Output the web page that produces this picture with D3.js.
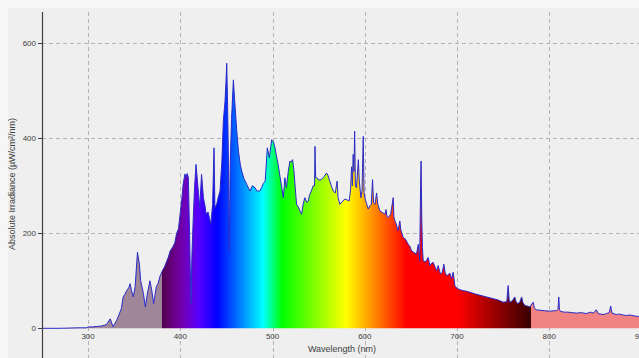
<!DOCTYPE html>
<html>
<head>
<meta charset="utf-8">
<script src="https://cdn.jsdelivr.net/npm/d3@7"></script>
<style>
  html, body { margin: 0; padding: 0; background: #f6f6f6; }
  svg { display: block; font-family: "Liberation Sans", Arial, sans-serif; }
</style>
</head>
<body>
<svg id="chart"></svg>
<script>
// wavelength (nm) and absolute irradiance (uW/cm2/nm)
const wavelengths = [
  250, 270, 290, 298, 300, 305, 310, 315, 320, 324, 327, 331, 336, 338, 340, 342, 344, 345.5, 347, 349,
  351, 353.5, 355.6, 357, 360, 362, 364, 367, 369, 371, 374, 376, 378, 381, 383, 385, 387, 389, 392, 394,
  396, 398, 400, 402, 403, 405, 406, 407.5, 408.7, 410, 411.5, 412.5, 414, 415.5, 417, 418.5, 419.5, 421, 423, 424,
  425, 427, 428, 430, 431.5, 433, 435, 436.5, 437.5, 439.4, 441, 443, 445, 446.6, 448.4, 449.5, 450.3, 451.2, 452, 453,
  454, 455.5, 457.5, 459, 461, 463, 465, 466.5, 469, 472, 474, 475.5, 478, 481, 483, 486, 488, 490, 492, 494.3,
  496.5, 499, 501, 502.6, 504, 506, 508, 510, 511.6, 513.4, 515, 517, 518.8, 520, 521.7, 523, 524, 526, 528, 529.7,
  531.5, 533, 535, 537, 538.7, 540, 542, 544, 545.5, 546, 546.7, 548, 550, 553, 556, 558.6, 560, 562, 564, 565.8,
  568, 570, 571, 573, 575, 578.4, 581, 583, 584.5, 585.7, 586.5, 587.4, 588.2, 589, 589.8, 591, 593, 594, 595.8, 597,
  598.3, 599.2, 600, 602, 603.7, 605.5, 607, 608.4, 609.5, 611, 612.8, 614, 616.4, 619, 621.8, 623, 624, 625.4, 628, 630.8,
  631.5, 632.6, 634, 636, 638, 639, 641.6, 644, 647, 649, 650.7, 653, 656, 658, 659.5, 660.5, 661, 661.8, 662.5, 663.3,
  666, 668.7, 670.5, 672, 674, 676, 677.8, 679.5, 682, 684, 685.7, 687, 688.6, 690, 692.2, 694, 695.8, 697.6, 699, 701,
  705, 710, 713.8, 720, 726, 732, 738, 744, 750, 754, 755.4, 756.5, 757.2, 760, 762.6, 764, 766, 768, 770, 771.5,
  773.5, 776, 779, 782.5, 784, 786, 790, 795, 800.5, 805, 807.8, 809.5, 810.3, 811, 812, 816, 820, 825, 829.5, 835,
  840, 845, 848, 851, 853, 858.3, 862, 865, 866.6, 868, 872.7, 876, 880, 883.6, 888, 892, 896.6, 900
];
const irradiance = [
  0, 0, 1, 1, 3, 3, 4, 5, 8, 20, 3, 17, 41, 66, 72, 80, 85, 94, 80, 66,
  88, 160, 135, 100, 73, 45, 70, 100, 80, 52, 88, 95, 110, 123, 130, 140, 150, 163, 172, 180,
  200, 210, 245, 280, 303, 325, 318, 326, 317, 200, 52, 150, 233, 300, 345, 310, 289, 254, 324, 300,
  275, 255, 240, 245, 233, 219, 261, 380, 254, 261, 275, 289, 350, 436, 477, 520, 558, 470, 373, 163,
  340, 440, 523, 477, 420, 373, 345, 331, 315, 303, 295, 289, 300, 296, 289, 289, 296, 305, 310, 380,
  359, 397, 392, 380, 365, 345, 320, 296, 275, 317, 296, 330, 352, 350, 355, 335, 310, 261, 255, 247,
  240, 260, 275, 265, 268, 280, 289, 300, 300, 383, 317, 317, 312, 313, 320, 327, 322, 310, 298, 289,
  285, 310, 275, 261, 266, 272, 270, 268, 290, 340, 300, 366, 330, 415, 300, 296, 355, 310, 275, 290,
  404, 285, 275, 262, 251, 258, 261, 313, 265, 261, 285, 262, 247, 244, 240, 250, 235, 233, 240, 275,
  235, 226, 220, 205, 226, 208, 191, 188, 177, 172, 163, 160, 156, 177, 142, 300, 352, 226, 170, 142,
  140, 149, 132, 136, 139, 130, 121, 132, 114, 118, 135, 118, 111, 112, 116, 104, 118, 90, 86, 83,
  80, 78, 76, 72, 69, 66, 63, 60, 55, 56, 90, 60, 55, 58, 66, 56, 52, 55, 66, 54,
  48, 47, 45, 55, 42, 39, 38, 37, 36, 37, 37, 40, 66, 40, 36, 34, 34, 33, 32, 33,
  31, 34, 32, 39, 31, 29, 31, 33, 47, 32, 29, 30, 28, 27, 28, 26, 25, 25
];
const xTicks = [300, 400, 500, 600, 700, 800, 900];
const yTicks = [0, 200, 400, 600];

const width = 639;
const height = 358;
const axisX = 42;
const plotTop = 12;

const svg = d3.select("#chart")
  .attr("width", width)
  .attr("height", height);

// chart panel
svg.append("rect")
  .attr("x", 8).attr("y", 8)
  .attr("width", width - 8).attr("height", height - 8)
  .attr("fill", "#efefef");

const x = d3.scaleLinear().domain([250, 900]).range([axisX, 641.5]);
const y = d3.scaleLinear().domain([0, 600]).range([328.3, 43.3]);

const data = wavelengths.map((w, i) => ({ w: w, v: irradiance[i] }));

// grid
const grid = svg.append("g")
  .attr("stroke", "#b4b4b4")
  .attr("stroke-width", 1)
  .attr("stroke-dasharray", "4,3");

grid.selectAll("line.vgrid")
  .data(xTicks)
  .enter()
  .append("line")
  .attr("class", "vgrid")
  .attr("x1", d => Math.round(x(d)) + 0.5)
  .attr("x2", d => Math.round(x(d)) + 0.5)
  .attr("y1", plotTop)
  .attr("y2", height);

grid.selectAll("line.hgrid")
  .data(yTicks.filter(d => d > 0))
  .enter()
  .append("line")
  .attr("class", "hgrid")
  .attr("x1", axisX)
  .attr("x2", width)
  .attr("y1", d => Math.round(y(d)) + 0.5)
  .attr("y2", d => Math.round(y(d)) + 0.5);

// spectrum colour of a wavelength inside the visible band
function spectrumColor(w) {
  let r = 0, g = 0, b = 0;
  if (w < 440) { r = (440 - w) / 60; b = 1; }
  else if (w < 490) { g = (w - 440) / 50; b = 1; }
  else if (w < 510) { g = 1; b = (510 - w) / 20; }
  else if (w < 580) { r = (w - 510) / 70; g = 1; }
  else if (w < 645) { r = 1; g = (645 - w) / 65; }
  else { r = 1; }
  let f = 1;
  if (w < 420) f = 0.3 + 0.7 * (w - 380) / 40;
  else if (w > 700) f = 0.22 + 0.78 * (780 - w) / 80;
  return d3.rgb(r * f * 255, g * f * 255, b * f * 255).formatHex();
}

const defs = svg.append("defs");
const grad = defs.append("linearGradient")
  .attr("id", "spectrum")
  .attr("gradientUnits", "userSpaceOnUse")
  .attr("x1", x(250)).attr("x2", x(900))
  .attr("y1", 0).attr("y2", 0);

const frac = w => (w - 250) / (900 - 250);
const uvColor = "#9f8799";
const irColor = "#f08282";
const stops = [{ o: 0, c: uvColor }, { o: frac(380), c: uvColor }];
for (let w = 380; w <= 780; w += 5) stops.push({ o: frac(w), c: spectrumColor(w) });
stops.push({ o: frac(780), c: irColor }, { o: 1, c: irColor });

grad.selectAll("stop")
  .data(stops)
  .enter()
  .append("stop")
  .attr("offset", d => d.o)
  .attr("stop-color", d => d.c);

const area = d3.area()
  .x(d => x(d.w))
  .y0(y(0))
  .y1(d => y(d.v));

const line = d3.line()
  .x(d => x(d.w))
  .y(d => y(d.v));

svg.append("path")
  .datum(data)
  .attr("d", area)
  .attr("fill", "url(#spectrum)");

svg.append("path")
  .datum(data)
  .attr("d", line)
  .attr("fill", "none")
  .attr("stroke", "#2a2ac8")
  .attr("stroke-width", 1)
  .attr("stroke-linejoin", "round");

// y axis
svg.append("line")
  .attr("x1", axisX + 0.5).attr("x2", axisX + 0.5)
  .attr("y1", plotTop).attr("y2", height)
  .attr("stroke", "#404040")
  .attr("stroke-width", 1.2);

const yAxis = svg.append("g");
yAxis.selectAll("line")
  .data(yTicks)
  .enter()
  .append("line")
  .attr("x1", axisX - 4).attr("x2", axisX)
  .attr("y1", d => Math.round(y(d)) + 0.5)
  .attr("y2", d => Math.round(y(d)) + 0.5)
  .attr("stroke", "#404040");

yAxis.selectAll("text")
  .data(yTicks)
  .enter()
  .append("text")
  .attr("x", axisX - 6)
  .attr("y", d => y(d))
  .attr("dy", "0.35em")
  .attr("text-anchor", "end")
  .style("font-size", "8px")
  .style("fill", "#404040")
  .text(d => d);

svg.append("g")
  .selectAll("text")
  .data(xTicks)
  .enter()
  .append("text")
  .attr("x", d => x(d))
  .attr("y", 339)
  .attr("text-anchor", "middle")
  .style("font-size", "8px")
  .style("fill", "#404040")
  .text(d => d);

svg.append("text")
  .attr("x", 342)
  .attr("y", 352)
  .attr("text-anchor", "middle")
  .style("font-size", "9px")
  .style("fill", "#404040")
  .text("Wavelength (nm)");

svg.append("text")
  .attr("transform", "translate(15,184) rotate(-90)")
  .attr("text-anchor", "middle")
  .style("font-size", "9px")
  .style("fill", "#404040")
  .text("Absolute Irradiance (µW/cm²/nm)");
</script>
</body>
</html>
